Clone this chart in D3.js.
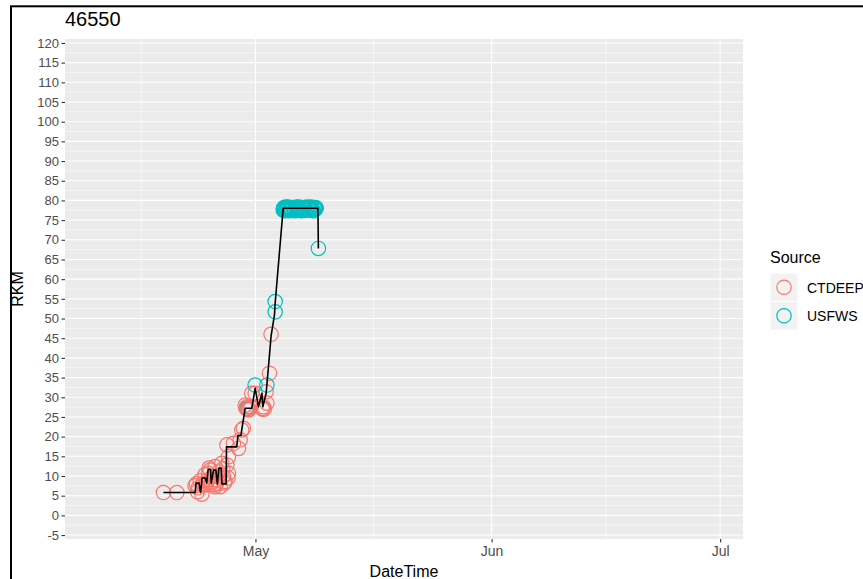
<!DOCTYPE html>
<html>
<head>
<meta charset="utf-8">
<script src="https://cdn.jsdelivr.net/npm/d3@7"></script>
<style>
  body { margin: 0; background: #fff; }
  svg { font-family: "Liberation Sans", Arial, sans-serif; }
</style>
</head>
<body>
<div id="chart"></div>
<script>
// data
var chartTitle = '46550'

var ctdeepTimes = ['2021-04-18 22:05', '2021-04-20 16:19', '2021-04-23 01:55', '2021-04-23 09:22', '2021-04-23 23:02',
  '2021-04-23 17:46', '2021-04-24 09:07', '2021-04-24 19:55', '2021-04-25 00:58', '2021-04-25 17:02',
  '2021-04-26 14:10', '2021-04-27 06:00', '2021-04-27 11:02', '2021-04-27 00:29', '2021-04-26 08:53',
  '2021-04-25 17:02', '2021-04-25 00:58', '2021-04-24 09:07', '2021-04-24 02:24', '2021-04-24 16:48',
  '2021-04-25 09:36', '2021-04-26 00:00', '2021-04-26 19:12', '2021-04-26 04:48', '2021-04-27 09:36',
  '2021-04-23 12:00', '2021-04-27 11:02', '2021-04-27 06:00', '2021-04-28 02:38', '2021-04-28 18:29',
  '2021-04-29 00:00', '2021-04-29 04:48', '2021-04-29 10:05', '2021-04-29 20:53', '2021-04-30 07:12',
  '2021-04-29 15:36', '2021-04-30 02:24', '2021-04-30 00:00', '2021-04-30 23:02', '2021-04-30 12:29',
  '2021-05-02 01:12', '2021-05-02 12:00', '2021-05-01 21:36', '2021-05-02 09:36', '2021-05-02 20:10',
  '2021-05-03 01:12', '2021-04-24 12:00', '2021-04-25 05:00', '2021-04-25 21:00', '2021-04-26 03:00',
  '2021-04-26 22:00', '2021-04-24 22:00', '2021-04-25 13:00', '2021-04-26 17:00', '2021-04-23 06:00',
  '2021-04-29 18:00', '2021-04-30 04:00', '2021-04-30 10:00', '2021-05-01 23:00', '2021-05-02 04:00']
var ctdeepRkm = [5.8, 5.8, 7.5, 6.0, 5.4,
  8.8, 10.3, 10.7, 11.5, 12.4,
  13.2, 12.8, 10.7, 8.6, 7.3,
  7.3, 7.7, 7.7, 8.0, 9.0,
  10.0, 9.0, 10.0, 11.0, 9.5,
  7.0, 14.9, 17.9, 18.3, 17.0,
  19.2, 21.7, 22.1, 27.6, 27.6,
  28.0, 26.8, 27.0, 31.0, 31.0,
  27.6, 28.5, 27.0, 31.4, 36.1,
  46.0, 8.0, 8.5, 8.0, 9.8,
  8.2, 12.0, 7.8, 11.8, 8.0,
  27.2, 27.0, 27.4, 27.2, 27.0]

var usfwsTimes = ['2021-04-29 22:48', '2021-04-30 23:02', '2021-05-02 12:00', '2021-05-03 14:10', '2021-05-03 14:10',
  '2021-05-04 15:22', '2021-05-04 18:00', '2021-05-04 20:24', '2021-05-04 22:48', '2021-05-05 02:24',
  '2021-05-05 06:00', '2021-05-05 09:36', '2021-05-05 13:12', '2021-05-05 16:48', '2021-05-05 21:36',
  '2021-05-06 02:24', '2021-05-06 07:12', '2021-05-06 12:00', '2021-05-06 16:48', '2021-05-06 21:36',
  '2021-05-07 02:24', '2021-05-07 07:12', '2021-05-07 12:00', '2021-05-07 16:48', '2021-05-07 21:36',
  '2021-05-08 02:24', '2021-05-08 07:12', '2021-05-08 12:00', '2021-05-08 16:48', '2021-05-08 20:24',
  '2021-05-08 23:17', '2021-05-09 06:14', '2021-05-04 16:40', '2021-05-04 21:30', '2021-05-05 00:10',
  '2021-05-05 04:10', '2021-05-05 07:50', '2021-05-05 11:20', '2021-05-05 15:00', '2021-05-05 19:10',
  '2021-05-05 23:50', '2021-05-06 04:50', '2021-05-06 09:40', '2021-05-06 14:20', '2021-05-06 19:10',
  '2021-05-06 23:50', '2021-05-07 04:50', '2021-05-07 09:40', '2021-05-07 14:20', '2021-05-07 19:10',
  '2021-05-07 23:50', '2021-05-08 04:50', '2021-05-08 09:40', '2021-05-08 14:20', '2021-05-08 18:30',
  '2021-05-08 22:00']
var usfwsRkm = [27.2, 33.1, 33.1, 54.3, 51.7,
  77.6, 78.2, 77.4, 78.0, 77.8,
  78.3, 77.5, 78.1, 77.7, 78.2,
  77.6, 78.0, 77.8, 78.3, 77.5,
  78.1, 77.7, 78.2, 77.6, 78.0,
  77.8, 78.3, 77.5, 78.1, 77.7,
  78.0, 67.8, 77.9, 77.5, 78.3,
  77.6, 78.0, 77.4, 78.2, 77.7,
  78.1, 77.4, 78.3, 77.6, 78.0,
  77.4, 78.2, 77.9, 77.5, 78.3,
  77.6, 77.9, 78.2, 77.4, 78.0,
  78.2]

// track line (drawn over the points)
var lineTimes = ['2021-04-18 22:05', '2021-04-23 01:55', '2021-04-23 04:48', '2021-04-23 14:24', '2021-04-23 19:12',
  '2021-04-24 00:00', '2021-04-24 09:36', '2021-04-24 14:24', '2021-04-24 19:12', '2021-04-25 02:24',
  '2021-04-25 04:48', '2021-04-25 12:00', '2021-04-25 19:12', '2021-04-26 00:00', '2021-04-26 04:48',
  '2021-04-26 12:00', '2021-04-26 14:24', '2021-04-27 03:36', '2021-04-27 04:48', '2021-04-28 13:12',
  '2021-04-28 16:48', '2021-04-29 02:24', '2021-04-29 04:48', '2021-04-29 15:36', '2021-04-30 12:29',
  '2021-04-30 23:02', '2021-05-01 09:22', '2021-05-01 20:10', '2021-05-01 23:17', '2021-05-02 09:36',
  '2021-05-02 20:10', '2021-05-03 01:12', '2021-05-03 12:00', '2021-05-03 14:10', '2021-05-04 15:22',
  '2021-05-09 04:48', '2021-05-09 06:14']
var lineRkm = [5.8, 5.8, 8.2, 8.2, 5.8,
  9.5, 9.5, 8.2, 11.7, 11.7,
  8.2, 11.5, 11.5, 8.0, 12.0,
  12.0, 8.0, 8.0, 17.4, 17.4,
  20.3, 20.3, 21.7, 27.2, 27.2,
  32.3, 27.6, 31.0, 27.6, 31.0,
  40.7, 45.5, 51.0, 54.0, 78.0,
  78.0, 67.8]

var yTicks = [-5, 0, 5, 10, 15, 20, 25, 30, 35, 40, 45, 50, 55, 60, 65, 70, 75, 80, 85, 90, 95, 100, 105, 110, 115, 120]
var xTickDates = ['2021-05-01', '2021-06-01', '2021-07-01']
var xTickLabels = ['May', 'Jun', 'Jul']
var xMinorDates = ['2021-04-16 00:00', '2021-05-16 12:00', '2021-06-16 00:00']
var sources = ['CTDEEP', 'USFWS']
var sourceColours = ['#F8766D', '#00BFC4']

var parseTime = d3.timeParse('%Y-%m-%d %H:%M')
var parseDay = d3.timeParse('%Y-%m-%d')

var config = {
    width: 863,
    height: 579,
    panel: { left: 65, right: 743, top: 39, bottom: 539 }
}

var svg = d3.select('#chart').append('svg')
    .attr('width', config.width)
    .attr('height', config.height)

// outer frame of the screenshot
svg.append('rect')
    .attr('x', 11).attr('y', 6.3)
    .attr('width', 900).attr('height', 700)
    .attr('fill', 'none')
    .attr('stroke', '#000')
    .attr('stroke-width', 2)

var xScale = d3.scaleTime()
    .domain([parseDay('2021-04-06'), parseDay('2021-07-04')])
    .range([config.panel.left, config.panel.right])

var yScale = d3.scaleLinear()
    .domain([-6, 121])
    .range([config.panel.bottom, config.panel.top])

// panel background
svg.append('rect')
    .attr('x', config.panel.left)
    .attr('y', config.panel.top)
    .attr('width', config.panel.right - config.panel.left)
    .attr('height', config.panel.bottom - config.panel.top)
    .attr('fill', '#EBEBEB')

// grid lines
var grid = svg.append('g').classed('grid', true)

var yMinor = yTicks.slice(1).map(d => d - 2.5)

grid.selectAll('.y-minor')
    .data(yMinor).enter().append('line')
    .attr('x1', config.panel.left).attr('x2', config.panel.right)
    .attr('y1', d => yScale(d)).attr('y2', d => yScale(d))
    .attr('stroke', '#fff').attr('stroke-width', 0.55)

grid.selectAll('.x-minor')
    .data(xMinorDates).enter().append('line')
    .attr('y1', config.panel.top).attr('y2', config.panel.bottom)
    .attr('x1', d => xScale(parseTime(d))).attr('x2', d => xScale(parseTime(d)))
    .attr('stroke', '#fff').attr('stroke-width', 0.55)

grid.selectAll('.y-major')
    .data(yTicks).enter().append('line')
    .attr('x1', config.panel.left).attr('x2', config.panel.right)
    .attr('y1', d => yScale(d)).attr('y2', d => yScale(d))
    .attr('stroke', '#fff').attr('stroke-width', 1.1)

grid.selectAll('.x-major')
    .data(xTickDates).enter().append('line')
    .attr('y1', config.panel.top).attr('y2', config.panel.bottom)
    .attr('x1', d => xScale(parseDay(d))).attr('x2', d => xScale(parseDay(d)))
    .attr('stroke', '#fff').attr('stroke-width', 1.1)

// axes
var yAxis = svg.append('g')
    .attr('transform', 'translate(' + config.panel.left + ',0)')
    .call(d3.axisLeft(yScale).tickValues(yTicks).tickFormat(d => String(d))
        .tickSize(3.5).tickPadding(2.5).tickSizeOuter(0))
yAxis.select('.domain').remove()
yAxis.selectAll('.tick line').attr('stroke', '#333333').attr('stroke-width', 1.1)
yAxis.selectAll('.tick text').attr('fill', '#4D4D4D').style('font-size', '13px')

var xAxis = svg.append('g')
    .attr('transform', 'translate(0,' + config.panel.bottom + ')')
    .call(d3.axisBottom(xScale)
        .tickValues(xTickDates.map(parseDay))
        .tickFormat((d, i) => xTickLabels[i])
        .tickSize(3.5).tickPadding(4).tickSizeOuter(0))
xAxis.select('.domain').remove()
xAxis.selectAll('.tick line').attr('stroke', '#333333').attr('stroke-width', 1.1)
xAxis.selectAll('.tick text').attr('fill', '#4D4D4D').style('font-size', '14px')

// points
var points = []
ctdeepTimes.forEach(function(t, i) { points.push({ time: parseTime(t), rkm: ctdeepRkm[i], source: 0 }) })
usfwsTimes.forEach(function(t, i) { points.push({ time: parseTime(t), rkm: usfwsRkm[i], source: 1 }) })
points.sort((a, b) => a.time - b.time)

var data_layer = svg.append('g').classed('data-layer', true)

data_layer.selectAll('circle')
    .data(points).enter().append('circle')
    .attr('cx', d => xScale(d.time))
    .attr('cy', d => yScale(d.rkm))
    .attr('r', 7.2)
    .attr('fill', 'none')
    .attr('stroke', d => sourceColours[d.source])
    .attr('stroke-width', 1.2)

var track = lineTimes.map(function(t, i) { return { time: parseTime(t), rkm: lineRkm[i] } })

data_layer.append('path')
    .datum(track)
    .attr('d', d3.line().x(d => xScale(d.time)).y(d => yScale(d.rkm)))
    .attr('fill', 'none')
    .attr('stroke', '#000')
    .attr('stroke-width', 1.6)
    .attr('stroke-linejoin', 'round')

// titles
svg.append('text')
    .attr('x', 65).attr('y', 26)
    .style('font-size', '20px')
    .attr('fill', '#000')
    .text(chartTitle)

svg.append('text')
    .attr('x', (config.panel.left + config.panel.right) / 2)
    .attr('y', 577)
    .attr('text-anchor', 'middle')
    .style('font-size', '16px')
    .text('DateTime')

svg.append('text')
    .attr('transform', 'translate(23,' + ((config.panel.top + config.panel.bottom) / 2) + ') rotate(-90)')
    .attr('text-anchor', 'middle')
    .style('font-size', '16px')
    .text('RKM')

// legend
var legend = svg.append('g').attr('transform', 'translate(770,0)')

legend.append('text')
    .attr('x', 0).attr('y', 263)
    .style('font-size', '16px')
    .text('Source')

var keys = legend.selectAll('.key')
    .data(sources).enter().append('g')
    .attr('transform', (d, i) => 'translate(0,' + (273 + i * 28.5) + ')')

keys.append('rect')
    .attr('width', 28).attr('height', 28.5)
    .attr('fill', '#F2F2F2')
    .attr('stroke', '#fff')

keys.append('circle')
    .attr('cx', 14).attr('cy', 14.25).attr('r', 7.2)
    .attr('fill', 'none')
    .attr('stroke', (d, i) => sourceColours[i])
    .attr('stroke-width', 1.2)

keys.append('text')
    .attr('x', 37).attr('y', 19.5)
    .style('font-size', '14px')
    .attr('fill', '#000')
    .text(d => d)
</script>
</body>
</html>
